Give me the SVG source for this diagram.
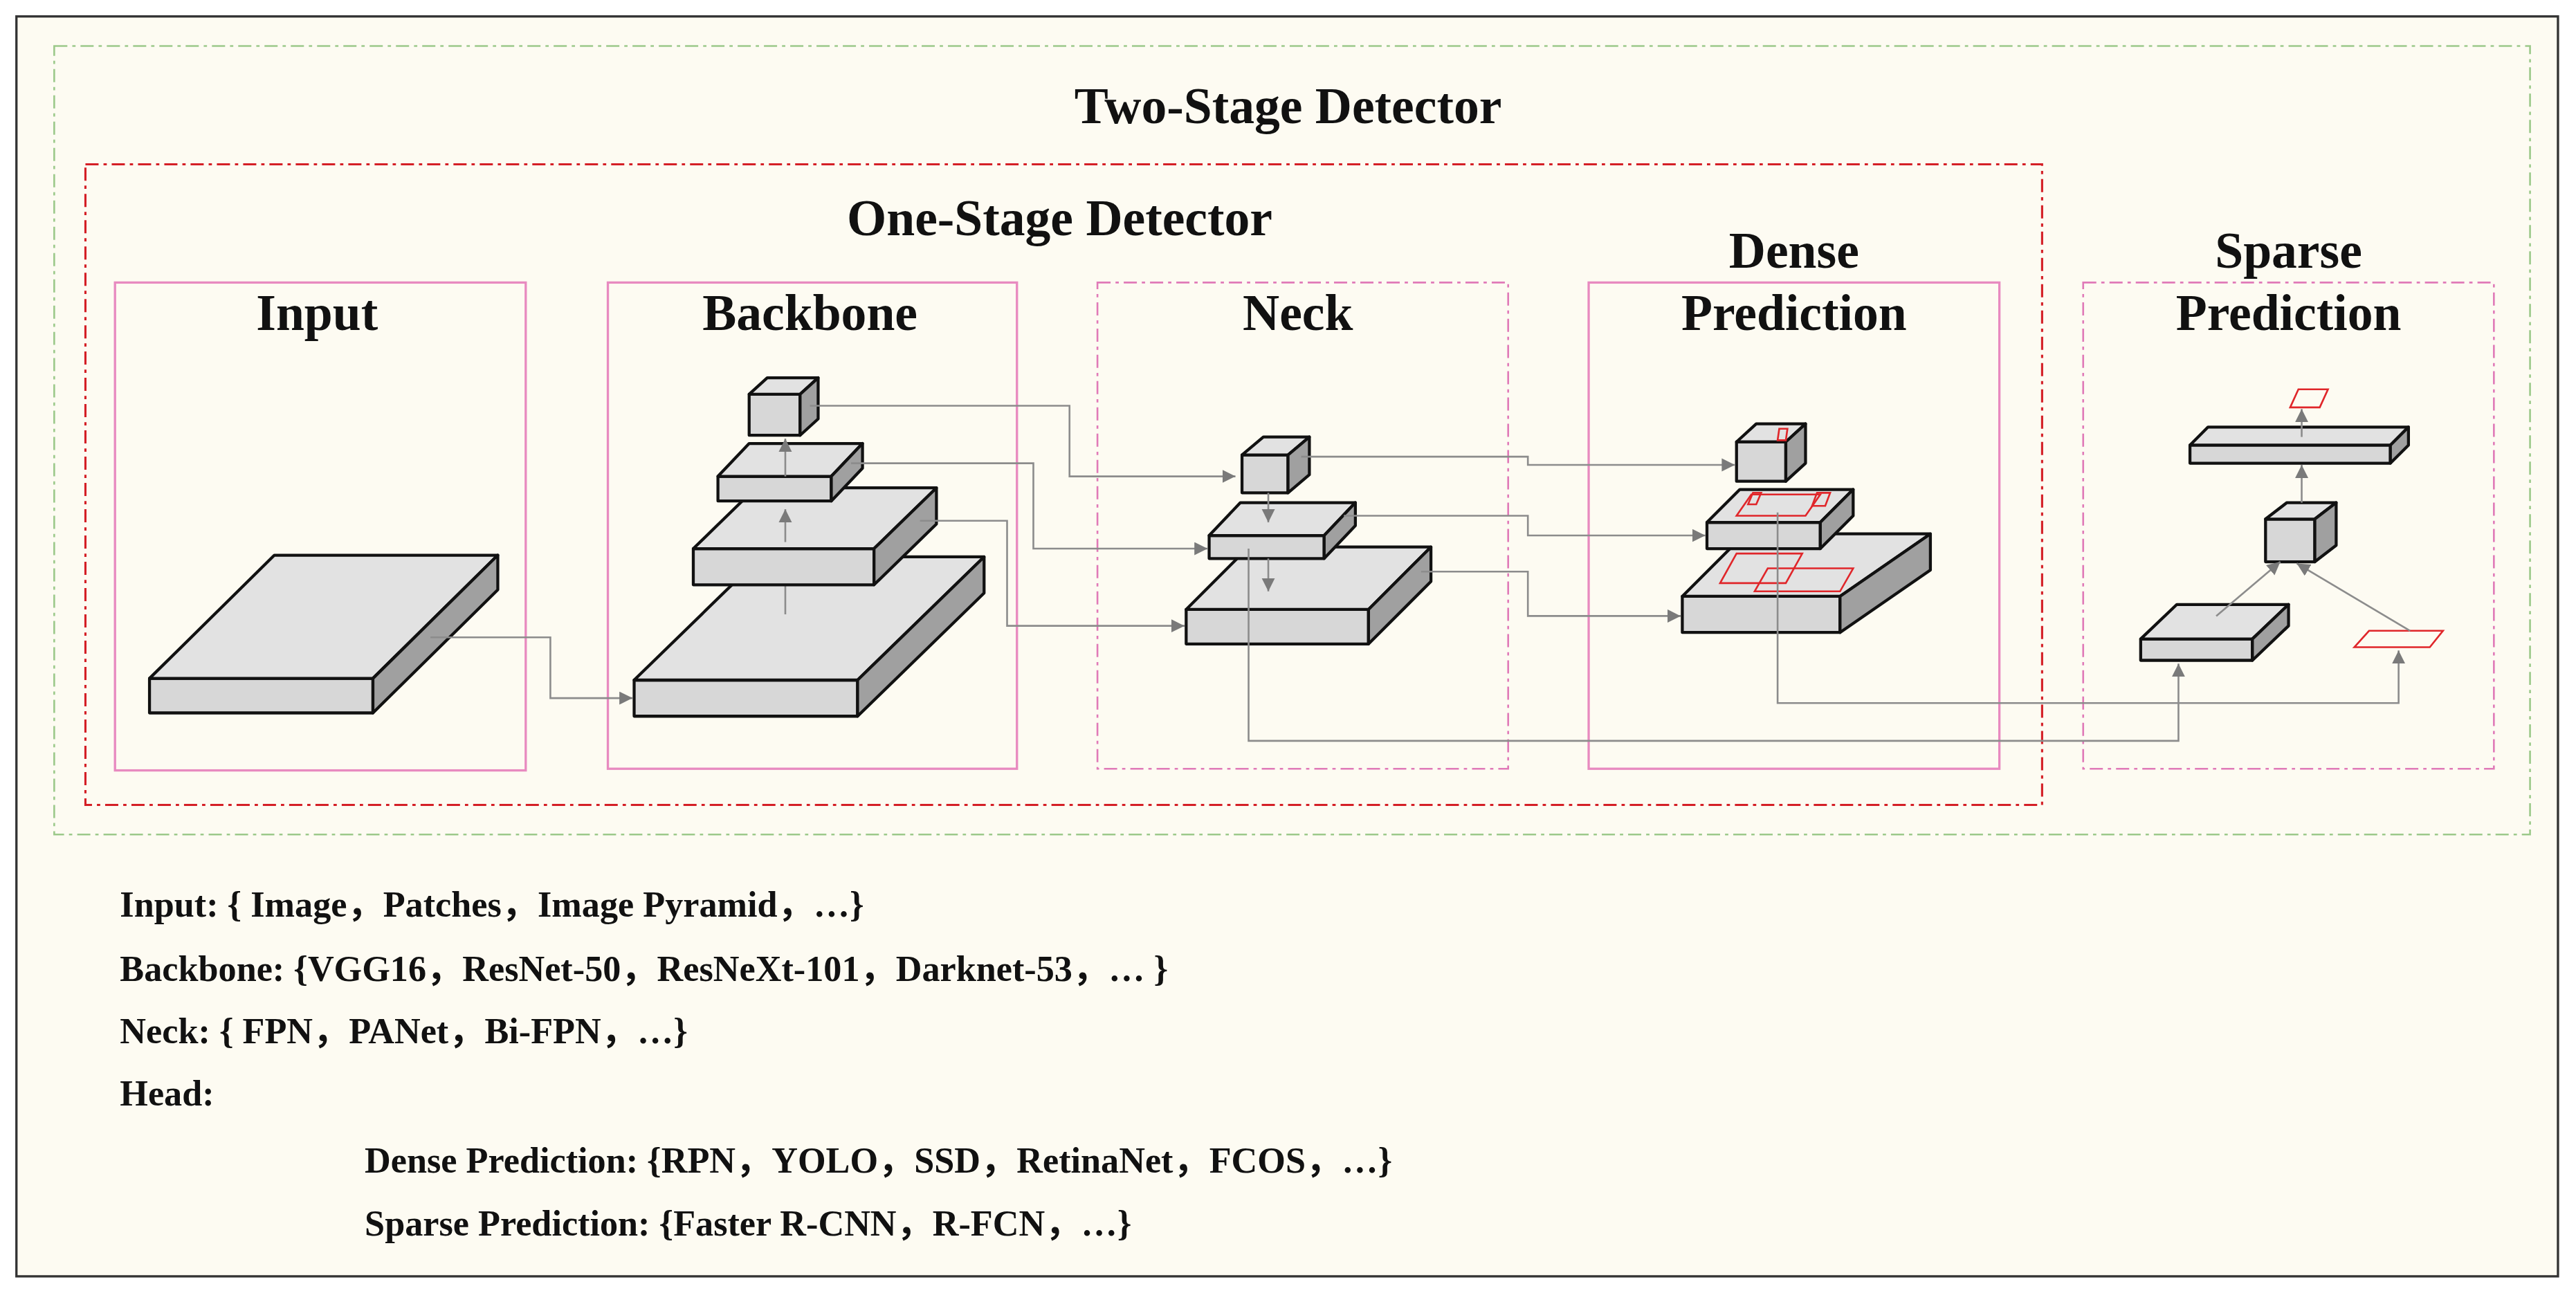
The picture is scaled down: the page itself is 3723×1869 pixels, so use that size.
<svg xmlns="http://www.w3.org/2000/svg" width="3723" height="1869" viewBox="0 0 3723 1869">
<style>
.t{font-family:"Liberation Serif","Noto Sans CJK SC",serif;font-weight:bold;fill:#111}
.h{font-size:31px;text-anchor:middle}
.b{font-size:22px}
.fr{fill:#d7d7d7;stroke:#111;stroke-width:1.8;stroke-linejoin:round}
.tp{fill:#e2e2e2;stroke:#111;stroke-width:1.8;stroke-linejoin:round}
.sd{fill:#a0a0a0;stroke:#111;stroke-width:1.8;stroke-linejoin:round}
.rd{fill:none;stroke:#e0262a;stroke-width:1.1}
.c{fill:none;stroke:#8c8c8c;stroke-width:1.1}
.pk{fill:none;stroke:#e88ac0;stroke-width:1.4}
.pkd{fill:none;stroke:#e07ab8;stroke-width:1.1;stroke-dasharray:8 3 2 3}
</style>
<defs>
<marker id="a" markerUnits="userSpaceOnUse" markerWidth="10" markerHeight="10" refX="8" refY="4" orient="auto"><path d="M0,0 L8,4 L0,8 Z" fill="#7a7a7a"/></marker>
</defs>
<rect width="3723" height="1869" fill="#fff"/>
<g transform="scale(2.3744)">
<rect x="10" y="10" width="1547" height="767" fill="#fdfbf2" stroke="#333" stroke-width="1.4"/>
<g id="two-stage"><rect x="33" y="28" width="1507" height="480" fill="none" stroke="#9cc98a" stroke-width="1.1" stroke-dasharray="8 3 2 3"/>
<text class="t h" x="784" y="75">Two-Stage Detector</text></g>
<g id="one-stage"><rect x="52" y="100" width="1191" height="390" fill="none" stroke="#d41f26" stroke-width="1.3" stroke-dasharray="8 3 2 3"/>
<text class="t h" x="645" y="143">One-Stage Detector</text></g>

<g id="input"><rect class="pk" x="70" y="172" width="250" height="297"/><text class="t h" x="193" y="201">Input</text>
<rect class="fr" x="91" y="413" width="136" height="21"/><path class="tp" d="M91,413 L167,338 L303,338 L227,413 Z"/><path class="sd" d="M227,413 L303,338 L303,359 L227,434 Z"/></g>

<g id="backbone"><rect class="pk" x="370" y="172" width="249" height="296"/><text class="t h" x="493" y="201">Backbone</text>
<rect class="fr" x="386" y="414" width="136" height="22"/><path class="tp" d="M386,414 L463,339 L599,339 L522,414 Z"/><path class="sd" d="M522,414 L599,339 L599,361 L522,436 Z"/>
<line class="c" x1="478" y1="374" x2="478" y2="356"/>
<rect class="fr" x="422" y="334" width="110" height="22"/><path class="tp" d="M422,334 L460,297 L570,297 L532,334 Z"/><path class="sd" d="M532,334 L570,297 L570,319 L532,356 Z"/>
<line class="c" x1="478" y1="330" x2="478" y2="310" marker-end="url(#a)"/>
<rect class="fr" x="437" y="290" width="69" height="15"/><path class="tp" d="M437,290 L456,270 L525,270 L506,290 Z"/><path class="sd" d="M506,290 L525,270 L525,285 L506,305 Z"/>
<line class="c" x1="478" y1="290" x2="478" y2="267" marker-end="url(#a)"/>
<rect class="fr" x="456" y="240" width="31" height="25"/><path class="tp" d="M456,240 L467,230 L498,230 L487,240 Z"/><path class="sd" d="M487,240 L498,230 L498,255 L487,265 Z"/></g>

<g id="neck"><rect class="pkd" x="668" y="172" width="250" height="296"/><text class="t h" x="790" y="201">Neck</text>
<rect class="fr" x="722" y="371" width="111" height="21"/><path class="tp" d="M722,371 L760,333 L871,333 L833,371 Z"/><path class="sd" d="M833,371 L871,333 L871,354 L833,392 Z"/>
<rect class="fr" x="736" y="326" width="70" height="14"/><path class="tp" d="M736,326 L755,306 L825,306 L806,326 Z"/><path class="sd" d="M806,326 L825,306 L825,320 L806,340 Z"/>
<rect class="fr" x="756" y="277" width="28" height="23"/><path class="tp" d="M756,277 L769,266 L797,266 L784,277 Z"/><path class="sd" d="M784,277 L797,266 L797,289 L784,300 Z"/>
<line class="c" x1="772" y1="300" x2="772" y2="318" marker-end="url(#a)"/>
<line class="c" x1="772" y1="340" x2="772" y2="360" marker-end="url(#a)"/></g>

<g id="dense"><rect class="pk" x="967" y="172" width="250" height="296"/><text class="t h" x="1092" y="163">Dense</text><text class="t h" x="1092" y="201">Prediction</text>
<rect class="fr" x="1024" y="363" width="96" height="22"/><path class="tp" d="M1024,363 L1062,325 L1175,325 L1120,363 Z"/><path class="sd" d="M1120,363 L1175,325 L1175,347 L1120,385 Z"/>
<path class="rd" d="M1047,355 L1057,337 L1097,337 L1087,355 Z"/><path class="rd" d="M1068,360 L1076,346 L1128,346 L1120,360 Z"/>
<rect class="fr" x="1039" y="318" width="69" height="16"/><path class="tp" d="M1039,318 L1059,298 L1128,298 L1108,318 Z"/><path class="sd" d="M1108,318 L1128,298 L1128,314 L1108,334 Z"/>
<path class="rd" d="M1057,314 L1066,301 L1108,301 L1099,314 Z"/><path class="rd" d="M1064,307 L1067,300 L1072,300 L1069,307 Z"/><path class="rd" d="M1103,308 L1106,300 L1114,300 L1111,308 Z"/>
<rect class="fr" x="1057" y="269" width="30" height="24"/><path class="tp" d="M1057,269 L1069,258 L1099,258 L1087,269 Z"/><path class="sd" d="M1087,269 L1099,258 L1099,282 L1087,293 Z"/>
<path class="rd" d="M1082,268 L1083,261 L1088,261 L1087,268 Z"/></g>

<g id="sparse"><rect class="pkd" x="1268" y="172" width="250" height="296"/><text class="t h" x="1393" y="163">Sparse</text><text class="t h" x="1393" y="201">Prediction</text>
<path class="rd" d="M1394,248 L1399,237 L1417,237 L1412,248 Z"/>
<rect class="fr" x="1333" y="271" width="122" height="11"/><path class="tp" d="M1333,271 L1344,260 L1466,260 L1455,271 Z"/><path class="sd" d="M1455,271 L1466,260 L1466,271 L1455,282 Z"/>
<line class="c" x1="1401" y1="266" x2="1401" y2="249" marker-end="url(#a)"/>
<rect class="fr" x="1379" y="316" width="30" height="26"/><path class="tp" d="M1379,316 L1392,306 L1422,306 L1409,316 Z"/><path class="sd" d="M1409,316 L1422,306 L1422,332 L1409,342 Z"/>
<line class="c" x1="1401" y1="306" x2="1401" y2="283" marker-end="url(#a)"/>
<rect class="fr" x="1303" y="389" width="68" height="13"/><path class="tp" d="M1303,389 L1325,368 L1393,368 L1371,389 Z"/><path class="sd" d="M1371,389 L1393,368 L1393,381 L1371,402 Z"/>
<path class="rd" d="M1433,394 L1442,384 L1487,384 L1479,394 Z"/>
<line class="c" x1="1349" y1="375" x2="1388" y2="342" marker-end="url(#a)"/>
<line class="c" x1="1467" y1="384" x2="1398" y2="343" marker-end="url(#a)"/></g>

<g id="connectors">
<path class="c" d="M262,388 H335 V425 H385" marker-end="url(#a)"/>
<path class="c" d="M493,247 H651 V290 H752" marker-end="url(#a)"/>
<path class="c" d="M518,282 H629 V334 H735" marker-end="url(#a)"/>
<path class="c" d="M560,317 H613 V381 H721" marker-end="url(#a)"/>
<path class="c" d="M792,278 H930 V283 H1056" marker-end="url(#a)"/>
<path class="c" d="M818,314 H930 V326 H1038" marker-end="url(#a)"/>
<path class="c" d="M865,348 H930 V375 H1023" marker-end="url(#a)"/>
<path class="c" d="M760,334 V451 H1326 V404" marker-end="url(#a)"/>
<path class="c" d="M1082,312 V428 H1460 V396" marker-end="url(#a)"/>
</g>

<g id="legend">
<text class="t b" x="73" y="558">Input: { Image，Patches，Image Pyramid，…}</text>
<text class="t b" x="73" y="597">Backbone: {VGG16，ResNet-50，ResNeXt-101，Darknet-53，… }</text>
<text class="t b" x="73" y="635">Neck: { FPN，PANet，Bi-FPN，…}</text>
<text class="t b" x="73" y="673">Head:</text>
<text class="t b" x="222" y="714">Dense Prediction: {RPN，YOLO，SSD，RetinaNet，FCOS，…}</text>
<text class="t b" x="222" y="752">Sparse Prediction: {Faster R-CNN，R-FCN，…}</text>
</g>
</g>
</svg>
